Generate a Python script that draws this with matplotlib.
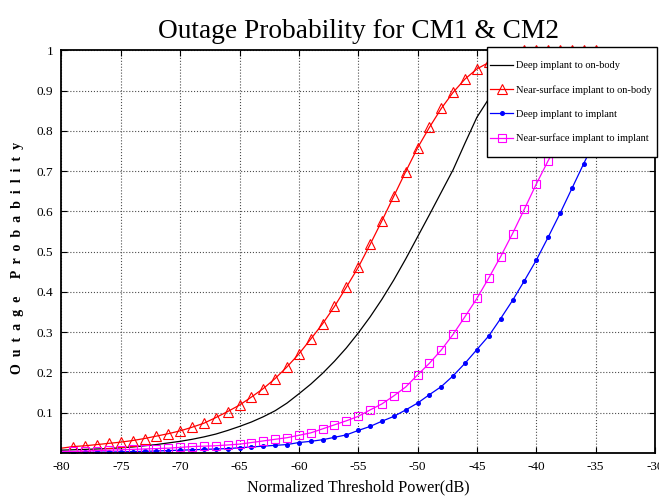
import matplotlib
matplotlib.use("Agg")
import matplotlib.pyplot as plt
from matplotlib.patches import Rectangle

# ---- data ----
threshold_db = list(range(-80, -34))  # -80 ... -35

deep_on_body = [0.007, 0.008, 0.009, 0.010, 0.011, 0.013, 0.015, 0.018, 0.021, 0.025,
                0.029, 0.034, 0.040, 0.047, 0.056, 0.066, 0.077, 0.090, 0.105, 0.124,
                0.147, 0.171, 0.198, 0.228, 0.261, 0.298, 0.338, 0.382, 0.430, 0.482,
                0.537, 0.592, 0.648, 0.704, 0.770, 0.834, 0.880, 0.918, 0.948, 0.970,
                0.985, 0.994, 1.0, 1.0, 1.0, 1.0]

near_on_body = [0.012, 0.016, 0.018, 0.021, 0.024, 0.027, 0.031, 0.036, 0.042, 0.048,
                0.055, 0.064, 0.074, 0.088, 0.103, 0.119, 0.139, 0.160, 0.185, 0.214,
                0.246, 0.283, 0.321, 0.364, 0.412, 0.461, 0.518, 0.577, 0.638, 0.699,
                0.758, 0.809, 0.856, 0.896, 0.929, 0.954, 0.970, 0.981, 0.988, 1.0,
                1.0, 1.0, 1.0, 1.0, 1.0, 1.0]

deep_implant = [0.001, 0.0012, 0.0015, 0.002, 0.0025, 0.003, 0.0035, 0.004, 0.005, 0.006,
                0.007, 0.008, 0.009, 0.010, 0.011, 0.013, 0.015, 0.017, 0.019, 0.021,
                0.026, 0.029, 0.033, 0.039, 0.045, 0.056, 0.066, 0.079, 0.091, 0.107,
                0.124, 0.145, 0.165, 0.192, 0.223, 0.257, 0.291, 0.334, 0.379, 0.428,
                0.479, 0.536, 0.595, 0.657, 0.719, 0.780]

near_implant = [0.004, 0.004, 0.005, 0.006, 0.007, 0.008, 0.009, 0.010, 0.011, 0.012,
                0.014, 0.016, 0.017, 0.018, 0.020, 0.022, 0.026, 0.030, 0.034, 0.038,
                0.044, 0.050, 0.060, 0.070, 0.080, 0.091, 0.107, 0.122, 0.142, 0.164,
                0.194, 0.223, 0.256, 0.295, 0.339, 0.384, 0.435, 0.488, 0.545, 0.606,
                0.668, 0.726, 0.780, 0.830, 0.873, 0.910]

series_labels = ["Deep implant to on-body", "Near-surface implant to on-body",
                 "Deep implant to implant", "Near-surface implant to implant"]

x_ticks = [-80, -75, -70, -65, -60, -55, -50, -45, -40, -35, -30]
y_ticks = [0.1, 0.2, 0.3, 0.4, 0.5, 0.6, 0.7, 0.8, 0.9, 1.0]
y_tick_labels = ["0.1", "0.2", "0.3", "0.4", "0.5", "0.6", "0.7", "0.8", "0.9", "1"]

serif = ["Liberation Serif", "DejaVu Serif"]

fig = plt.figure(figsize=(6.59, 5.01), dpi=100)
ax = fig.add_axes([0.0933, 0.0958, 0.9006, 0.8036])

ax.plot(threshold_db, deep_on_body, color="black", lw=0.9, label=series_labels[0])
ax.plot(threshold_db, near_on_body, color="red", lw=0.9, marker="^", ms=6.5,
        mfc="none", mec="red", mew=0.8, markevery=slice(1, None), clip_on=False,
        label=series_labels[1])
ax.plot(threshold_db, deep_implant, color="blue", lw=0.9, marker="o", ms=2.6,
        mfc="blue", mec="blue", markevery=slice(1, None), label=series_labels[2])
ax.plot(threshold_db, near_implant, color="magenta", lw=0.9, marker="s", ms=5.5,
        mfc="none", mec="magenta", mew=0.8, markevery=slice(1, None),
        label=series_labels[3])

ax.set_xlim(-80, -30)
ax.set_ylim(0, 1)
ax.set_xticks(x_ticks)
ax.set_xticklabels([str(t) for t in x_ticks], family=serif, fontsize=9.5)
ax.set_yticks(y_ticks)
ax.set_yticklabels(y_tick_labels, family=serif, fontsize=9.5)
ax.tick_params(direction="in", length=4, width=0.8, top=True, right=True, pad=6)

ax.grid(True, linestyle=":", color="0.3", linewidth=0.8)
for s in ax.spines.values():
    s.set_linewidth(1.3)

ax.set_title("Outage Probability for CM1 & CM2", family=serif, fontsize=19.7, pad=9)
ax.set_xlabel("Normalized Threshold Power(dB)", family=serif, fontsize=11.7, labelpad=4)
ax.set_ylabel("O  u  t  a  g  e     P  r  o  b  a  b  i  l  i  t  y", family=serif,
              fontsize=10, fontweight="bold")
ax.yaxis.set_label_coords(-0.064, 0.485)

# legend box (white, black edge) drawn over the curves
box = Rectangle((0.7175, 0.735), 0.2867, 0.2735, transform=ax.transAxes,
                facecolor="white", edgecolor="black", linewidth=1.0,
                clip_on=False, zorder=4)
ax.add_patch(box)

leg = ax.legend(loc="upper left", bbox_to_anchor=(0.7225, 0.974), borderaxespad=0,
                borderpad=0, prop={"family": serif, "size": 7.5}, frameon=False,
                handlelength=2.2, handletextpad=0.3, labelspacing=1.42, numpoints=1)
leg.set_zorder(5)

fig.savefig("out.png", dpi=100)
